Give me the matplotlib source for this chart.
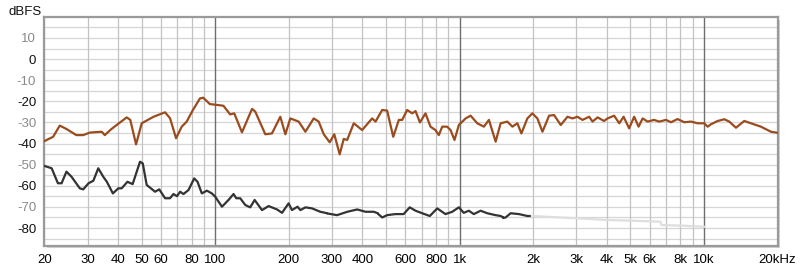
import numpy as np
import matplotlib.pyplot as plt
from matplotlib.patches import Rectangle

# Upper (brown) response, Hz / dBFS
freq_a = [20, 21.7, 23.1, 24.6, 27.0, 28.8, 30.7, 34.3, 35.3, 37.6, 43.4, 44.9, 47.4,
          50.0, 55.9, 62.3, 65.3, 69.1, 72.9, 76.4, 81.0, 86.6, 89.3, 95.0, 101.6, 108,
          115, 119.6, 128.6, 141.4, 145.8, 160.2, 170.6, 184.6, 193.6, 202.8, 219.5,
          233.8, 252.8, 265, 278, 294, 307, 323, 335.5, 346.6, 368.8, 399, 438.6, 452.9,
          482, 505, 535, 564, 582, 610, 640, 660, 688, 725, 760, 796, 822, 849, 889, 918,
          953, 993, 1058, 1109, 1181, 1257, 1318, 1404, 1472, 1567, 1644, 1723, 1790,
          1893, 1985, 2081, 2183, 2324, 2435, 2594, 2763, 2898, 3034, 3184, 3390, 3500,
          3670, 3900, 4030, 4290, 4500, 4690, 4940, 5180, 5400, 5610, 5880, 6250, 6560,
          6990, 7330, 7800, 8300, 8850, 9420, 10020, 10350, 10670, 11380, 12110, 12690,
          13520, 14620, 15570, 17100, 18800, 20000]
level_a = [-38.8, -36.8, -31.5, -33.1, -36.0, -36.0, -34.8, -34.4, -36.0, -33.1, -27.6,
           -28.8, -40.4, -30.4, -27.3, -25.2, -28.0, -37.5, -32.0, -29.6, -24.1, -18.6,
           -18.3, -21.3, -21.7, -22.1, -26.2, -25.7, -34.7, -23.6, -24.9, -35.6, -35.2,
           -27.3, -35.6, -28.1, -29.6, -34.4, -28.1, -29.6, -35.6, -39.4, -35.6, -45.1,
           -37.8, -38.3, -30.4, -33.6, -28.1, -29.6, -24.1, -24.4, -36.8, -28.8, -28.8,
           -24.1, -25.7, -24.6, -30.0, -25.7, -32.0, -33.6, -36.0, -32.0, -32.0, -33.6,
           -38.3, -31.2, -28.1, -26.8, -30.4, -32.0, -28.8, -39.1, -30.4, -29.6, -32.0,
           -30.4, -35.2, -28.1, -25.7, -28.1, -34.4, -26.8, -26.5, -31.2, -27.3, -28.1,
           -27.3, -28.8, -27.3, -29.6, -27.6, -29.3, -28.1, -26.8, -30.4, -27.3, -32.8,
           -27.3, -32.0, -28.1, -29.6, -28.8, -29.6, -28.8, -29.9, -28.4, -29.9, -29.6,
           -30.4, -30.4, -32.0, -30.9, -29.3, -28.5, -29.6, -32.5, -29.3, -30.4, -32.0,
           -34.4, -34.9]

# Lower (dark) response, NaN marks the small dropouts
freq_b = [20, 21.4, 22.7, 23.5, 24.6, 25.8, 27.9, 28.8, 30.3, 31.7, 33.2, 34.8, 36.0,
          38.1, 40.1, 41.4, 43.7, 45.9, 49.2, 50.5, 52.4, 56.7, 59.0, 62.3, 65.3, 67.4,
          69.7, 71.8, 74.1, 77.7, 82.0, 84.6, 88.1, 92.4, 96.8, 100, 106.5, 113.3, 118.8,
          121.9, 126.5, 132.7, 139, 144.9, 155.3, 165.3, 179, 187.6, 199.6, 206, 217, 223,
          234, 249, 269, 282, 286, 288, 291, 315, 347, 381, 412, 446, 462, 464, 467, 482,
          505, 546, 590, 625, 660, 703, 755, 810, 875, 933, 993, 1040, 1091, 1143, 1219,
          1298, 1404, 1472, 1500, 1505, 1512, 1542, 1617, 1750, 1893, 1935, 1945, 1985]
level_b = [-50.6, -51.7, -58.8, -58.8, -53.3, -55.7, -61.2, -61.7, -58.8, -57.6, -51.7,
           -55.7, -58.1, -63.6, -61.2, -61.2, -58.1, -59.2, -48.6, -49.4, -59.6, -62.8,
           -61.7, -65.9, -65.9, -63.9, -64.9, -62.8, -63.9, -62.0, -56.5, -58.1, -63.6,
           -62.3, -63.6, -65.2, -69.9, -66.7, -63.9, -65.9, -65.9, -69.1, -70.2, -66.7,
           -71.5, -69.6, -71.2, -72.8, -68.3, -71.5, -69.9, -71.5, -70.2, -70.7, -72.3,
           -72.8, -73.0, np.nan, -73.2, -73.9, -72.3, -71.2, -72.3, -72.3, -73.0, np.nan,
           -73.6, -75.0, -73.9, -73.4, -73.4, -70.2, -71.8, -73.0, -74.3, -70.7, -73.4,
           -72.3, -70.2, -72.8, -71.8, -73.4, -71.8, -73.0, -73.9, -74.3, -74.8, np.nan,
           -75.2, -75.0, -73.0, -73.4, -74.3, -74.3, np.nan, -74.3]

# Faded continuation of the lower response above 2 kHz
freq_c = [1985, 3030, 4030, 5020, 6640, 6700, 8300, 10000]
level_c = [-74.3, -75.4, -76.2, -76.5, -77.0, -78.6, -78.9, -79.4]

xticks = [20, 30, 40, 50, 60, 80, 100, 200, 300, 400, 600, 800,
          1000, 2000, 3000, 4000, 5000, 6000, 8000, 10000, 20000]
xlabels = ['20', '30', '40', '50', '60', '80', '100', '200', '300', '400', '600',
           '800', '1k', '2k', '3k', '4k', '5k', '6k', '8k', '10k', '20kHz']
yticks = [10, 0, -10, -20, -30, -40, -50, -60, -70, -80]

plt.rcParams['font.family'] = ['Liberation Sans', 'DejaVu Sans']

fig = plt.figure(figsize=(8, 2.71), dpi=100)
ax = fig.add_axes([0.0556, 0.0923, 0.9163, 0.8432])
ax.set_zorder(2)
ax.set_facecolor('white')

# soft drop shadow round the plot frame
fig.patches.append(Rectangle((0.0556 + 0.003, 0.0923 - 0.008), 0.9163, 0.8432,
                             transform=fig.transFigure, facecolor='#d4d4d4',
                             edgecolor='none', zorder=0))

ax.set_xscale('log')
ax.set_xlim(20, 20000)
ax.set_ylim(-88.5, 19.7)

# grid: every 5 dB, minor vertical lines per decade, darker decades
for y in np.arange(-85, 20, 5):
    ax.axhline(y, color='#d6d6d6', lw=0.9, zorder=1)
for dec in [10, 100, 1000, 10000]:
    for m in range(2, 10):
        f = dec * m
        if 20 <= f <= 20000:
            ax.axvline(f, color='#c2c2c2', lw=0.9, zorder=1)
for f in [100, 1000, 10000]:
    ax.axvline(f, color='#6e6e6e', lw=1.0, zorder=1)

ax.plot(freq_c, level_c, color='#dedede', lw=1.6, zorder=2)
ax.plot(freq_b, level_b, color='#333333', lw=1.6, zorder=3)
ax.plot(freq_a, level_a, color='#9b4c1e', lw=1.6, zorder=4)

ax.set_xticks(xticks)
ax.set_xticklabels(xlabels, fontsize=9.5)
ax.xaxis.set_minor_locator(plt.NullLocator())
ax.set_yticks(yticks)
ax.set_yticklabels([str(v) for v in yticks], fontsize=9.5)
for i, lab in enumerate(ax.get_yticklabels()):
    lab.set_color('#8a8a8a' if i % 2 == 0 else '#111111')
ax.tick_params(length=0, pad=6)
ax.tick_params(axis='x', pad=6)

for s in ax.spines.values():
    s.set_color('#9a9a9a')
    s.set_linewidth(1.6)

fig.text(0.011, 0.955, 'dBFS', fontsize=9.5, color='#111111', va='center')

fig.savefig('out.png', dpi=100)
